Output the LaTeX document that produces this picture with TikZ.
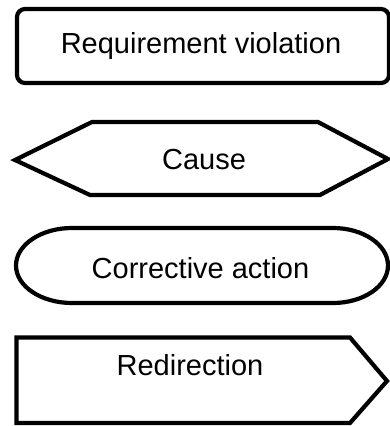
\documentclass[tikz,border=0pt]{standalone}
\usepackage{fontspec}
\setmainfont{Liberation Sans}
\begin{document}
\begin{tikzpicture}[x=1pt,y=1pt,
  outline/.style={draw=black,line width=4.2pt,fill=white},
  caption/.style={anchor=base,inner sep=0pt,font=\fontsize{29}{34}\selectfont}]
\useasboundingbox (0,0) rectangle (389,-426);
% requirement violation: rounded box
\draw[outline,rounded corners=8pt] (17,-9) rectangle (389,-83);
\node[caption] (req) at (201,-53) {Requirement violation};
% cause: elongated hexagon
\draw[outline] (15,-160) -- (92,-122) -- (318,-122) -- (388,-159)
  -- (320,-195) -- (90,-195) -- cycle;
\node[caption] (cause) at (204,-169) {Cause};
% corrective action: stadium with elliptical ends
\draw[outline] (72,-228) -- (333,-228)
  arc[start angle=90,end angle=-90,x radius=55,y radius=37.5]
  -- (72,-303)
  arc[start angle=270,end angle=90,x radius=56,y radius=37.5] -- cycle;
\node[caption] (act) at (200.5,-278) {Corrective action};
% redirection: pointing pentagon
\draw[outline] (16.5,-337.5) -- (350,-337.5) -- (387,-381)
  -- (350,-423) -- (16.5,-423) -- cycle;
\node[caption] (redir) at (190,-375) {Redirection};
\end{tikzpicture}
\end{document}
